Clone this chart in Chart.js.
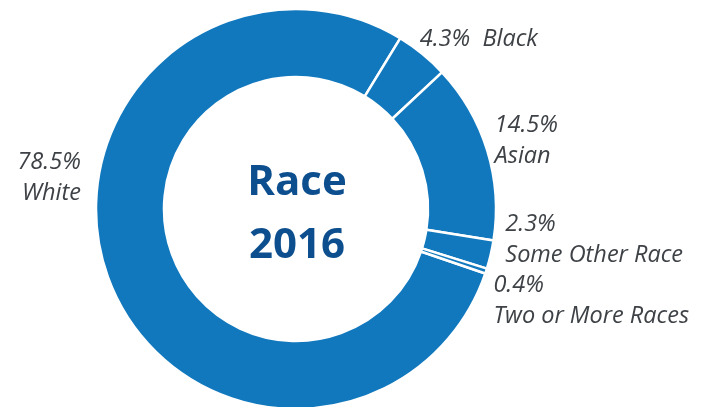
<!DOCTYPE html>
<html>
<head>
<meta charset="utf-8">
<script src="https://cdn.jsdelivr.net/npm/chart.js@4.4.0/dist/chart.umd.min.js"></script>
<style>
  html, body { margin: 0; padding: 0; background: #ffffff; overflow: hidden; }
  #wrap { width: 708px; height: 407px; }
</style>
</head>
<body>
<div id="wrap"><canvas id="race" width="708" height="407"></canvas></div>
<script>
// Population share by race, 2016 (percent)
const categories = ['White', 'Black', 'Asian', 'Some Other Race', 'Two or More Races'];
const shares = [78.5, 4.3, 14.5, 2.3, 0.4];
const centerTitle = ['Race', '2016'];

// Label placement: offset from a point just outside each slice's mid angle,
// plus whether the percentage and name share a line.
const labelLayout = [
  { dx: -13, dy: -104, align: 'right', inline: false },
  { dx: -12, dy: -3,   align: 'left',  inline: true  },
  { dx: -7,  dy: -5,   align: 'left',  inline: false },
  { dx: 0,   dy: -18,  align: 'left',  inline: false },
  { dx: -7,  dy: 25,   align: 'left',  inline: false }
];

const RING = '#1178be';
const LABEL_FONT = 'italic 23.5px "Open Sans", Lato, sans-serif';
const LABEL_COLOR = '#3e4246';
const LINE_GAP = 31;

const sliceLabels = {
  id: 'sliceLabels',
  afterDatasetsDraw(chart) {
    const ctx = chart.ctx;
    const meta = chart.getDatasetMeta(0);
    ctx.save();
    ctx.font = LABEL_FONT;
    ctx.fillStyle = LABEL_COLOR;
    ctx.textBaseline = 'middle';
    meta.data.forEach((arc, i) => {
      const p = arc.getProps(['x', 'y', 'startAngle', 'endAngle', 'outerRadius'], true);
      const mid = (p.startAngle + p.endAngle) / 2;
      const r = p.outerRadius + 15;
      const lay = labelLayout[i];
      const ax = p.x + r * Math.cos(mid) + lay.dx;
      const ay = p.y + r * Math.sin(mid) + lay.dy;
      const pct = shares[i].toFixed(1) + '%';
      ctx.textAlign = lay.align;
      if (lay.inline) {
        ctx.fillText(pct + '  ' + categories[i], ax, ay);
      } else {
        ctx.fillText(pct, ax, ay - LINE_GAP / 2);
        ctx.fillText(categories[i], ax, ay + LINE_GAP / 2);
      }
    });
    ctx.restore();
  }
};

const centerText = {
  id: 'centerText',
  afterDatasetsDraw(chart) {
    const ctx = chart.ctx;
    const arc = chart.getDatasetMeta(0).data[0];
    const { x, y } = arc.getProps(['x', 'y'], true);
    ctx.save();
    ctx.font = 'bold 42px "Open Sans", Lato, sans-serif';
    ctx.fillStyle = '#0d4f8e';
    ctx.textAlign = 'center';
    ctx.textBaseline = 'middle';
    ctx.fillText(centerTitle[0], x + 1, y - 26);
    ctx.fillText(centerTitle[1], x + 1, y + 37);
    ctx.restore();
  }
};

new Chart(document.getElementById('race'), {
  type: 'doughnut',
  data: {
    labels: categories,
    datasets: [{
      data: shares,
      backgroundColor: RING,
      borderColor: '#ffffff',
      borderWidth: 2.5,
      clip: false
    }]
  },
  options: {
    responsive: false,
    animation: false,
    devicePixelRatio: 1,
    rotation: 108.8,
    radius: 200,
    cutout: '66%',
    layout: { padding: { left: 0, right: 116, top: 11, bottom: 0 } },
    plugins: {
      legend: { display: false },
      tooltip: { enabled: false }
    }
  },
  plugins: [sliceLabels, centerText]
});
</script>
</body>
</html>
